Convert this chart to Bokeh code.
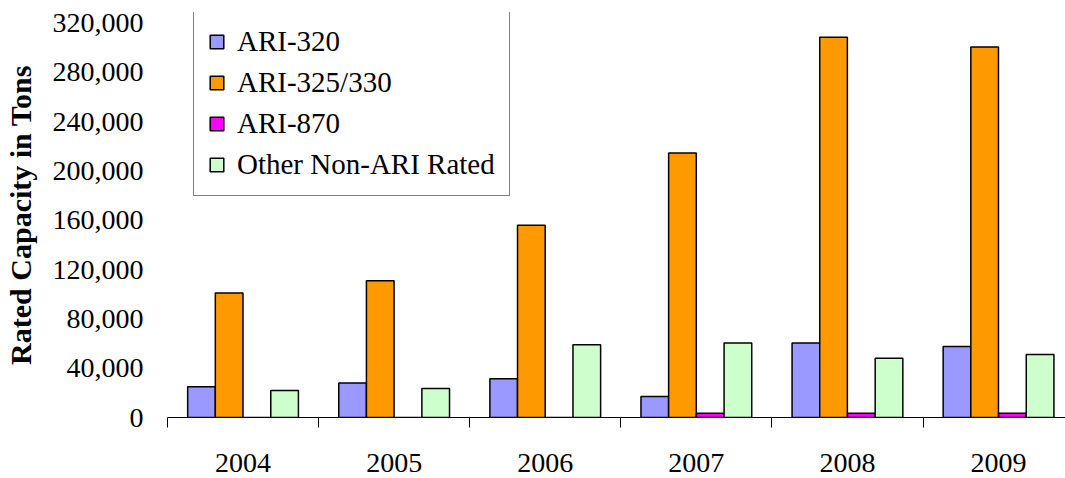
from bokeh.plotting import figure
from bokeh.models import (ColumnDataSource, Range1d, FixedTicker, NumeralTickFormatter,
                          Legend, LegendItem)
from bokeh.transform import dodge
from bokeh.embed import file_html
from bokeh.resources import INLINE

years = ["2004", "2005", "2006", "2007", "2008", "2009"]
ari320 = [25000, 28000, 31500, 17000, 60500, 57500]
ari325 = [101000, 111000, 156000, 214500, 308500, 300500]
ari870 = [0, 0, 0, 3500, 3500, 3500]
other = [22000, 23500, 59000, 60500, 48000, 51000]
series_names = ["ARI-320", "ARI-325/330", "ARI-870", "Other Non-ARI Rated"]
series_colors = ["#9999FF", "#FF9900", "#FF00FF", "#CCFFCC"]
y_ticks = [0, 40000, 80000, 120000, 160000, 200000, 240000, 280000, 320000]
y_label = "Rated Capacity in Tons"

FONT = "Liberation Serif"

W, H = 1065, 478
FRAME_LEFT, FRAME_TOP, FRAME_BOTTOM = 167, 12, 417
CAT_PX = 151.1

xs = [i + 0.5 for i in range(len(years))]
source = ColumnDataSource(dict(x=xs, s0=ari320, s1=ari325, s2=ari870, s3=other))

p = figure(width=W, height=H, output_backend="svg", toolbar_location=None,
           x_range=Range1d(0, (W - FRAME_LEFT) / CAT_PX), y_range=Range1d(0, 328500),
           min_border_left=FRAME_LEFT, min_border_right=0, min_border_top=FRAME_TOP,
           min_border_bottom=H - FRAME_BOTTOM)
p.outline_line_color = None
p.xgrid.visible = False
p.ygrid.visible = False
p.background_fill_color = "white"
p.border_fill_color = "white"

offsets = [-0.275, -0.092, 0.092, 0.275]
renderers = []
for k, (name, col) in enumerate(zip(series_names, series_colors)):
    r = p.vbar(x=dodge("x", offsets[k]), top="s%d" % k, width=0.183, source=source,
               fill_color=col, line_color="black", line_width=1.5)
    renderers.append(r)

# x axis: year labels at centres, category boundary ticks drawn as minor ticks
xax = p.xaxis[0]
xax.ticker = FixedTicker(ticks=xs, minor_ticks=list(range(len(years) + 1)))
xax.major_label_overrides = {x: y for x, y in zip(xs, years)}
xax.major_tick_line_color = None
xax.major_tick_out = 0
xax.major_tick_in = 0
xax.minor_tick_out = 10
xax.minor_tick_in = 0
xax.minor_tick_line_color = "black"
xax.axis_line_color = "black"
xax.axis_line_width = 1
xax.major_label_text_font = FONT
xax.major_label_text_font_size = "28px"
xax.major_label_text_color = "black"
xax.major_label_standoff = 26

yax = p.yaxis[0]
yax.ticker = FixedTicker(ticks=y_ticks)
yax.formatter = NumeralTickFormatter(format="0,0")
yax.axis_line_color = None
yax.major_tick_line_color = None
yax.minor_tick_line_color = None
yax.major_tick_out = 0
yax.major_tick_in = 0
yax.minor_tick_out = 0
yax.minor_tick_in = 0
yax.major_label_text_font = FONT
yax.major_label_text_font_size = "28px"
yax.major_label_text_color = "black"
yax.major_label_standoff = 24
yax.axis_label = y_label
yax.axis_label_text_font = FONT
yax.axis_label_text_font_size = "30px"
yax.axis_label_text_font_style = "bold"
yax.axis_label_text_color = "black"
yax.axis_label_standoff = 13

legend = Legend(items=[LegendItem(label=n, renderers=[r]) for n, r in zip(series_names, renderers)],
                location=(26, 221))
legend.label_text_font = FONT
legend.label_text_font_size = "29px"
legend.label_text_color = "black"
legend.glyph_width = 17
legend.glyph_height = 17
legend.label_height = 33
legend.label_standoff = 12
legend.spacing = 8
legend.padding = 14
legend.margin = 0
legend.border_line_color = "black"
legend.border_line_width = 1
legend.background_fill_color = "white"
legend.background_fill_alpha = 1
p.add_layout(legend, "center")

open("out.html", "w").write(file_html(p, INLINE))
